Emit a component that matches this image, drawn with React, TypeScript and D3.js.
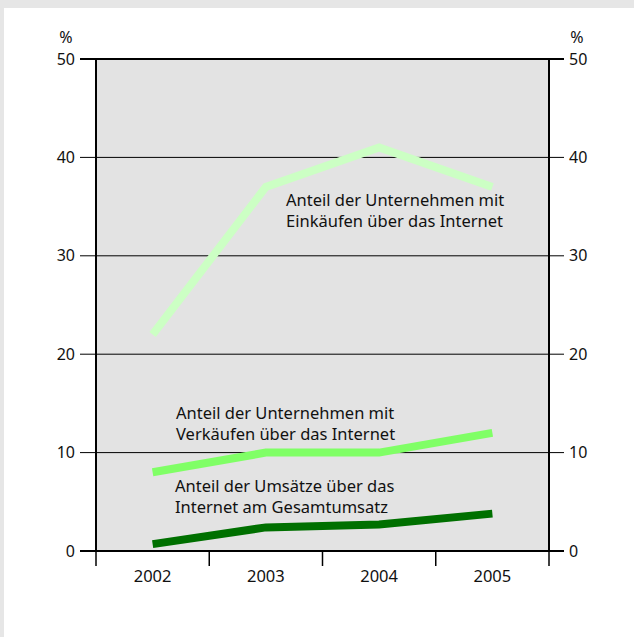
import React from "react";
import { scaleLinear, scaleBand, line } from "d3";

const years = ["2002", "2003", "2004", "2005"];
const einkauf = [22, 37, 41, 37];
const verkauf = [8, 10, 10, 12];
const umsatz = [0.7, 2.4, 2.7, 3.8];
const yTicks = [0, 10, 20, 30, 40, 50];

const W = 634;
const H = 637;
const left = 96;
const right = 549;
const top = 59;
const bottom = 551;
const font = "'Noto Sans', sans-serif";

export default function App() {
  const x = scaleBand().domain(years).range([left, right]);
  const y = scaleLinear().domain([0, 50]).range([bottom, top]);
  const cx = (i: number) => x(years[i])! + x.bandwidth() / 2;
  const path = line<number>()
    .x((_, i) => cx(i))
    .y((d) => y(d));

  const series = [
    { values: einkauf, color: "#ccffc4" },
    { values: verkauf, color: "#80ff66" },
    { values: umsatz, color: "#007000" },
  ];

  const bounds = [left, ...years.map((yr) => x(yr)! + x.bandwidth())];

  return (
    <>
      <style>{`html,body{margin:0;overflow:hidden;background:#fff}`}</style>
      <svg width={W} height={H} style={{ display: "block" }}>
        <rect x={0} y={0} width={W} height={H} fill="#e6e6e6" />
        <rect x={4} y={8} width={W - 4} height={H - 8} fill="#ffffff" />
        <rect x={left} y={top} width={right - left} height={bottom - top} fill="#e3e3e3" />

        {/* gridlines + ticks */}
        {yTicks.map((t) => (
          <line key={t} x1={left - 16} x2={right + 15} y1={y(t)} y2={y(t)} stroke="#000" strokeWidth={t === 0 || t === 50 ? 2 : 1} />
        ))}

        {/* x ticks */}
        {bounds.map((b, i) => (
          <line key={i} x1={b} x2={b} y1={bottom} y2={bottom + 15} stroke="#000" strokeWidth={1.5} />
        ))}

        {/* series */}
        {series.map((s, i) => (
          <path key={i} d={path(s.values) ?? ""} fill="none" stroke={s.color} strokeWidth={8} />
        ))}

        {/* frame */}
        <line x1={left} x2={left} y1={top} y2={bottom} stroke="#000" strokeWidth={2} />
        <line x1={right} x2={right} y1={top} y2={bottom} stroke="#000" strokeWidth={2} />
        <line x1={left} x2={right} y1={top} y2={top} stroke="#000" strokeWidth={2} />
        <line x1={left} x2={right} y1={bottom} y2={bottom} stroke="#000" strokeWidth={2} />

        {/* y labels */}
        <g fontFamily={font} fontSize={16} fill="#111">
          {yTicks.map((t) => (
            <React.Fragment key={t}>
              <text x={75} y={y(t)} dy="0.35em" textAnchor="end">{t}</text>
              <text x={569} y={y(t)} dy="0.35em" textAnchor="start">{t}</text>
            </React.Fragment>
          ))}
          <text x={66} y={43} textAnchor="middle">%</text>
          <text x={577} y={43} textAnchor="middle">%</text>
          {years.map((yr, i) => (
            <text key={yr} x={cx(i)} y={582} textAnchor="middle" fontSize={16.5}>{yr}</text>
          ))}
        </g>

        {/* annotations */}
        <g fontFamily={font} fontSize={16.5} fill="#111">
          <text x={286} y={206}>Anteil der Unternehmen mit</text>
          <text x={286} y={227}>Einkäufen über das Internet</text>
          <text x={176} y={419}>Anteil der Unternehmen mit</text>
          <text x={176} y={440}>Verkäufen über das Internet</text>
          <text x={175} y={492}>Anteil der Umsätze über das</text>
          <text x={175} y={513}>Internet am Gesamtumsatz</text>
        </g>
      </svg>
    </>
  );
}
